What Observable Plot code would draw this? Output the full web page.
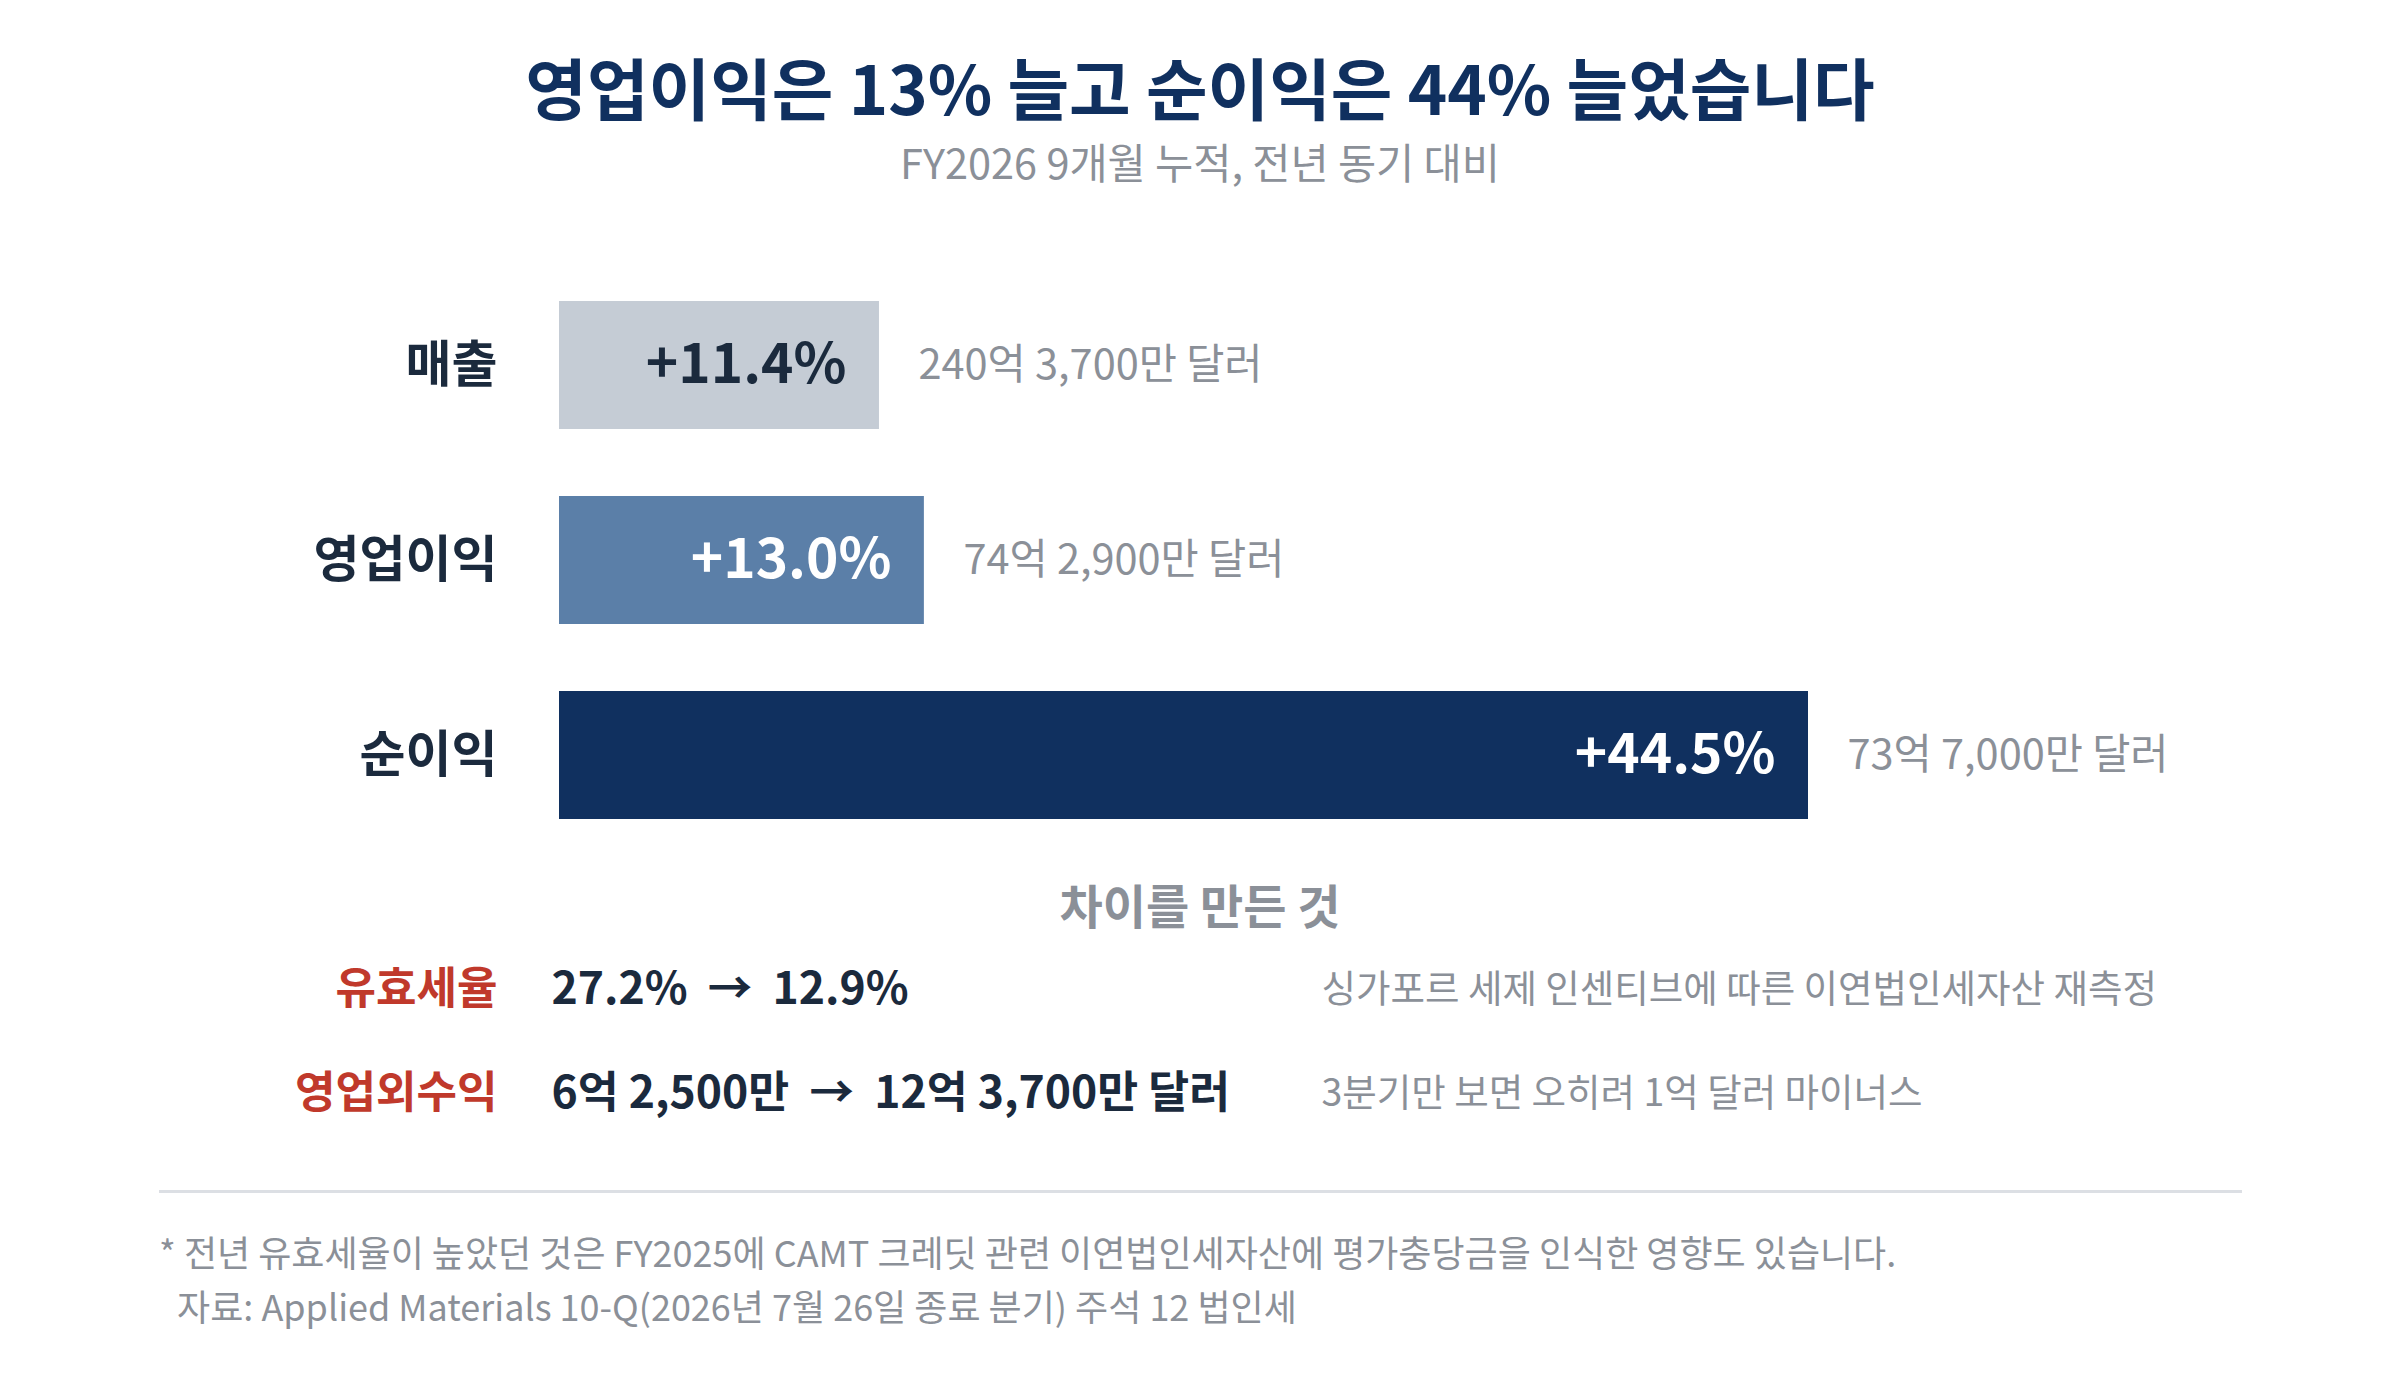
<!DOCTYPE html>
<html><head><meta charset="utf-8">
<script src="https://cdn.jsdelivr.net/npm/d3@7"></script>
<script src="https://cdn.jsdelivr.net/npm/@observablehq/plot@0.6"></script>
<style>
body{margin:0;background:#fff;font-family:"Noto Sans CJK KR","Noto Sans",sans-serif;}
#page{position:relative;width:2400px;height:1380px;overflow:hidden;background:#fff;}
.abs{position:absolute;left:0;width:2400px;}
#title{top:46px;text-align:center;font-size:67px;line-height:80px;font-weight:700;color:#10305f;}
#subtitle{top:136px;text-align:center;font-size:41.5px;line-height:50px;color:#8b9098;}
#bars{top:200px;}
#heading{top:879px;text-align:center;font-size:47px;line-height:50px;font-weight:700;color:#8b9098;}
#drivers{top:930px;}
#rule{top:1190px;left:159px;width:2083px;height:3px;background:#dcdfe4;}
#notes{top:1224px;left:159px;width:2100px;font-size:36px;line-height:54px;color:#8b9098;white-space:pre;}
#notes div:nth-child(2){padding-left:10px;}
svg text{font-family:"Noto Sans CJK KR","Noto Sans",sans-serif;}
g[aria-label="y-axis tick label"] text{font-weight:700;}
</style>
</head><body>
<div id="page">
  <div id="title" class="abs"></div>
  <div id="subtitle" class="abs"></div>
  <div id="bars" class="abs"></div>
  <div id="heading" class="abs"></div>
  <div id="drivers" class="abs"></div>
  <div id="rule" class="abs"></div>
  <div id="notes" class="abs"></div>
</div>
<script>
// ---- data ----
const titleText = "영업이익은 13% 늘고 순이익은 44% 늘었습니다";
const subtitleText = "FY2026 9개월 누적, 전년 동기 대비";
const categories = ["매출", "영업이익", "순이익"];
const growth = [11.4, 13.0, 44.5];
const growthLabels = ["+11.4%", "+13.0%", "+44.5%"];
const amounts = ["240억 3,700만 달러", "74억 2,900만 달러", "73억 7,000만 달러"];
const barColors = ["#c5ccd5", "#5b7fa8", "#10305f"];
const headingText = "차이를 만든 것";
const driverNames = ["유효세율", "영업외수익"];
const driverChanges = ["27.2%  →  12.9%", "6억 2,500만  →  12억 3,700만 달러"];
const driverNotes = ["싱가포르 세제 인센티브에 따른 이연법인세자산 재측정", "3분기만 보면 오히려 1억 달러 마이너스"];
const footnotes = [
  "* 전년 유효세율이 높았던 것은 FY2025에 CAMT 크레딧 관련 이연법인세자산에 평가충당금을 인식한 영향도 있습니다.",
  " 자료: Applied Materials 10-Q(2026년 7월 26일 종료 분기) 주석 12 법인세"
];

const FONT = '"Noto Sans CJK KR","Noto Sans",sans-serif';
document.getElementById("title").textContent = titleText;
document.getElementById("subtitle").textContent = subtitleText;
document.getElementById("heading").textContent = headingText;
const notesEl = document.getElementById("notes");
footnotes.forEach(t => { const d = document.createElement("div"); d.textContent = t; notesEl.appendChild(d); });

const rows = categories.map((c, i) => ({name: c, growth: growth[i], label: growthLabels[i], amount: amounts[i]}));

const bars = Plot.plot({
  width: 2400, height: 688,
  marginTop: 32.6, marginBottom: 0, marginLeft: 559, marginRight: 592,
  x: {domain: [0, 44.5], axis: null},
  y: {domain: categories, padding: 0.344, label: null, axis: null},
  color: {domain: categories, range: barColors},
  style: {fontFamily: FONT, background: "transparent", overflow: "visible"},
  marks: [
    Plot.barX(rows, {x: "growth", y: "name", fill: "name"}),
    Plot.axisY({tickSize: 0, tickPadding: 62, fontSize: 50, fontWeight: 700, fill: "#1b2a3d", label: null}),
    Plot.text(rows.filter((d, i) => i === 0), {x: "growth", y: "name", text: "label", textAnchor: "end", dx: -33, fontSize: 55, fontWeight: 700, fill: "#1b2a3d"}),
    Plot.text(rows.filter((d, i) => i > 0), {x: "growth", y: "name", text: "label", textAnchor: "end", dx: -33, fontSize: 55, fontWeight: 700, fill: "#ffffff"}),
    Plot.text(rows, {x: "growth", y: "name", text: "amount", textAnchor: "start", dx: 39, fontSize: 41.5, fill: "#8b9098"})
  ]
});
document.getElementById("bars").appendChild(bars);

const drows = driverNames.map((n, i) => ({name: n, change: driverChanges[i], note: driverNotes[i]}));
const drivers = Plot.plot({
  width: 2400, height: 220,
  marginTop: 7, marginBottom: 5, marginLeft: 0, marginRight: 0,
  y: {type: "point", domain: driverNames, padding: 0.5, axis: null},
  style: {fontFamily: FONT, background: "transparent", overflow: "visible"},
  marks: [
    Plot.text(drows, {y: "name", text: "name", frameAnchor: "left", textAnchor: "end", dx: 497, fontSize: 44, fontWeight: 700, fill: "#c0392b"}),
    Plot.text(drows, {y: "name", text: "change", frameAnchor: "left", textAnchor: "start", dx: 551, fontSize: 44.5, fontWeight: 700, fill: "#1b2a3d"}),
    Plot.text(drows, {y: "name", text: "note", frameAnchor: "left", textAnchor: "start", dx: 1321, fontSize: 37.5, fill: "#8b9098"})
  ]
});
document.getElementById("drivers").appendChild(drivers);
</script>
</body></html>
